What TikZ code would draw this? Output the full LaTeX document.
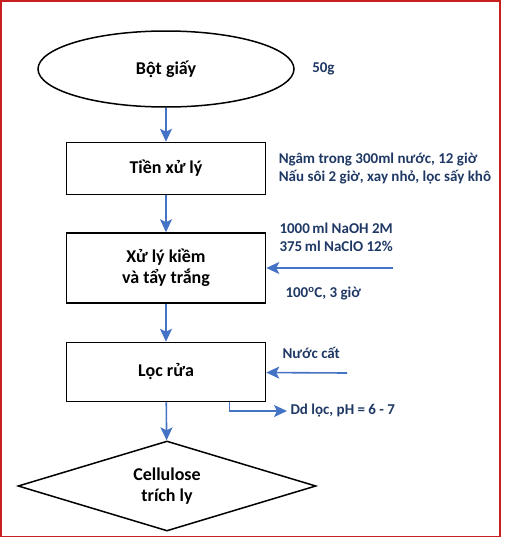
\documentclass[tikz,border=0pt]{standalone}
\usepackage{fontspec}
\setmainfont{Carlito}
\usetikzlibrary{positioning,arrows.meta,shapes.geometric}

\definecolor{flowblue}{RGB}{68,114,196}
\definecolor{notenavy}{RGB}{31,56,100}
\definecolor{framered}{RGB}{200,30,30}

\begin{document}
\begin{tikzpicture}[x=1pt, y=-1pt,
  stage/.style={draw, line width=1.5pt, align=center, inner sep=0pt,
                font=\fontsize{18}{21}\selectfont\bfseries},
  proc/.style={stage, rectangle, minimum width=199pt},
  note/.style={text=notenavy, align=left, anchor=west,
               font=\fontsize{15}{18}\selectfont\bfseries},
  flow/.style={-{Stealth[length=13pt, width=12pt, inset=3pt]},
               draw=flowblue, line width=1.6pt}
]
\useasboundingbox (0,0) rectangle (504,538);
\draw[framered, line width=1.5pt] (1,1) rectangle (500,536.5);

% main column
\node[stage, ellipse, minimum width=256pt, minimum height=76pt]
  (pulp) at (166,69) {Bột giấy};
\node[proc, minimum height=52pt, below=34pt of pulp] (pre) {Tiền xử lý};
\node[proc, minimum height=70pt, below=37pt of pre] (alk)
  {Xử lý kiềm\\và tẩy trắng};
\node[proc, minimum height=59pt, below=38pt of alk] (wash) {Lọc rửa};
\node[stage, diamond, shape aspect=3.3, minimum width=298pt,
      minimum height=90pt] (cell) at (167,486) {Cellulose\\trích ly};

\draw[flow] (pulp) -- (pre);
\draw[flow] (pre) -- (alk);
\draw[flow] (alk) -- (wash);
\draw[flow] (wash) -- (cell);

% side notes
\node[note, right=14pt of pulp.east] (mass) {50g};
\node[note, right=9pt of pre.east] (soak)
  {Ngâm trong 300ml nước, 12 giờ\\Nấu sôi 2 giờ, xay nhỏ, lọc sấy khô};
\node[note] (chem) at (276,237) {1000\,ml NaOH 2M\\375\,ml NaClO 12\%};
\node[note] (cond) at (282,294) {100\textsuperscript{o}C, 3 giờ};
\node[note] (water) at (279,353) {Nước cất};
\node[note] (filtrate) at (287,411) {Dd lọc, pH = 6 - 7};

\coordinate (alkfeed) at (393,268);
\coordinate (washfeed) at (347,373);
\draw[flow] (alkfeed) -- (alk);
\draw[flow] (washfeed) -- (wash);
\draw[flow] ([xshift=63.5pt]wash.south) |- (filtrate.west);
\end{tikzpicture}
\end{document}
